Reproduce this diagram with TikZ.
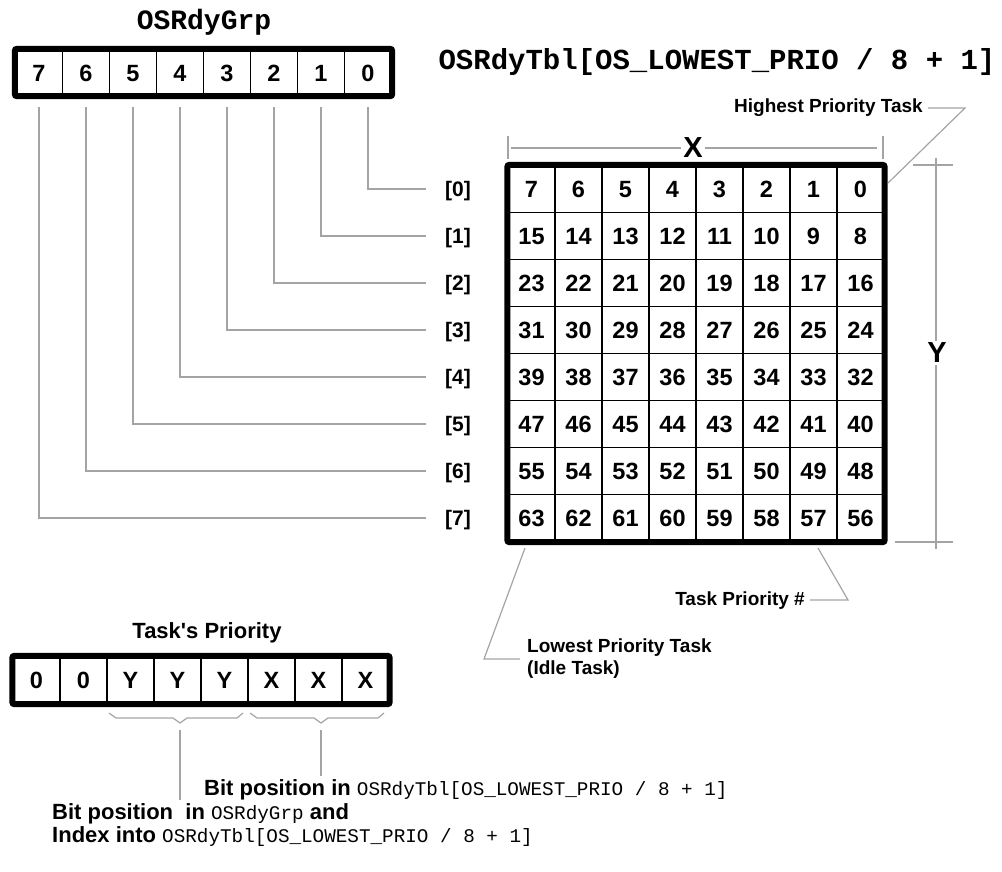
\documentclass[tikz,border=0pt]{standalone}
\usepackage{fontspec}
\setmainfont{Liberation Sans}
\newfontfamily\monofnt{Liberation Mono}
\definecolor{leadgray}{HTML}{A4A4A4}
\begin{document}
\begin{tikzpicture}[x=1pt,y=-1pt,
  cell/.style={draw, line width=1.3pt, minimum width=47pt, minimum height=47pt, inner sep=0pt,
    text height=17pt, text depth=0pt,
    font=\fontsize{23.5}{26}\selectfont\bfseries},
  frame/.style={draw, line width=6pt, rounded corners=2pt},
  lead/.style={draw=leadgray, line width=1.2pt},
  lab/.style={inner sep=3pt, font=\fontsize{19}{22}\selectfont\bfseries},
  rowlab/.style={inner sep=2pt, font=\fontsize{21}{24}\selectfont\bfseries},
  dimlab/.style={inner sep=2pt, font=\fontsize{29}{30}\selectfont\bfseries},
  ttl/.style={inner sep=0pt, font=\fontsize{28}{30}\selectfont\monofnt\bfseries},
  btext/.style={inner sep=3pt, font=\fontsize{22}{22}\selectfont\bfseries}
]
\useasboundingbox (0,0) rectangle (1002,871);

% ---- OSRdyGrp register ----
\node[ttl] (grpttl) at (204,22) {OSRdyGrp};
\foreach \j in {0,...,7}{
  \pgfmathtruncatemacro\b{7-\j}
  \node[cell, minimum height=46pt] (grp-\b) at ({39+47*\j},72.5) {\b};
}
\draw[frame] (grp-7.north west) rectangle (grp-0.south east);

% ---- OSRdyTbl title ----
\node[ttl, font=\fontsize{29}{30}\selectfont\monofnt\bfseries] (tblttl) at (717,62) {OSRdyTbl[OS\_LOWEST\_PRIO / 8 + 1]};

% ---- table grid ----
\foreach \i in {0,...,7}{
  \foreach \j in {0,...,7}{
    \pgfmathtruncatemacro\v{8*\i+7-\j}
    \node[cell] (t-\i-\j) at ({531.5+47*\j},{189+47*\i}) {\v};
  }
}
\draw[frame] (t-0-0.north west) rectangle (t-7-7.south east);

% ---- row labels and connectors ----
\foreach \i in {0,...,7}{
  \node[rowlab] (r-\i) at (458,{191+47*\i}) {[\i]};
  \coordinate (re-\i) at (426,{189+47*\i});
  \draw[lead, shorten <=11pt] (grp-\i.south) |- (re-\i);
}

% ---- X dimension ----
\node[dimlab] (xl) at (693,148) {X};
\coordinate (xL) at (508,148);
\coordinate (xR) at (883,148);
\draw[lead] ([yshift=-11pt]xL) -- ([yshift=12pt]xL);
\draw[lead] ([yshift=-11pt]xR) -- ([yshift=12pt]xR);
\draw[lead] ([xshift=3pt]xL) -- (xl.west);
\draw[lead] (xl.east) -- ([xshift=-6pt]xR);

% ---- Y dimension ----
\node[dimlab] (yl) at (937,353) {Y};
\coordinate (yT) at (936,165);
\coordinate (yB) at (936,542);
\draw[lead] ([xshift=-23pt]yT) -- ([xshift=17pt]yT);
\draw[lead] ([xshift=-41pt]yB) -- ([xshift=17pt]yB);
\draw[lead] ([yshift=7pt]yT) -- (yl.north -| yT);
\draw[lead] (yl.south -| yB) -- ([yshift=-7pt]yB);

% ---- Highest Priority Task ----
\node[lab, anchor=east] (hp) at (926,108) {Highest Priority Task};
\coordinate (hp1) at (965,108);
\coordinate (hp2) at (888,183);
\draw[lead] ([xshift=2pt]hp.east) -- (hp1) -- (hp2);

% ---- Task Priority # ----
\node[lab, anchor=east] (tpn) at (808,601) {Task Priority \#};
\coordinate (tp1) at (848,600);
\coordinate (tp2) at (818,548);
\draw[lead] ([xshift=2pt]tpn.east |- tp1) -- (tp1) -- (tp2);

% ---- Lowest Priority Task ----
\node[lab, anchor=west] (lp1) at (524,648) {Lowest Priority Task};
\node[lab, anchor=west] (lp2) at (524,670) {(Idle Task)};
\coordinate (lq1) at (525,548);
\coordinate (lq2) at (484,659);
\coordinate (lq3) at (520,659);
\draw[lead] (lq1) -- (lq2) -- (lq3);

% ---- Task's Priority register ----
\node[lab, font=\fontsize{22}{24}\selectfont\bfseries] (tpttl) at (207,633) {Task\textquotesingle s Priority};
\foreach \t [count=\k from 0] in {0,0,Y,Y,Y,X,X,X}{
  \node[cell] (tp-\k) at ({36.5+47*\k},680) {\t};
}
\draw[frame] (tp-0.north west) rectangle (tp-7.south east);

% ---- braces ----
\draw[lead] (109,713) -- (116,718) -- (173,718) -- (180,723) -- (187,718) -- (237,718) -- (243,713);
\draw[lead] (250,713) -- (257,718) -- (314,718) -- (321,723) -- (328,718) -- (378,718) -- (384,713);
\coordinate (byc) at (180,730);
\coordinate (bxc) at (321,730);

% ---- bottom texts ----
\node[btext, anchor=base west] (bt1) at (201,795) {Bit position in {\fontsize{19.3}{22}\selectfont\monofnt\mdseries OSRdyTbl[OS\_LOWEST\_PRIO / 8 + 1]}};
\node[btext, anchor=base west] (bt2) at (49,819) {Bit position\ \ in {\fontsize{19.3}{22}\selectfont\monofnt\mdseries OSRdyGrp} and};
\node[btext, anchor=base west] (bt3) at (49,842) {Index into {\fontsize{19.3}{22}\selectfont\monofnt\mdseries OSRdyTbl[OS\_LOWEST\_PRIO / 8 + 1]}};
\draw[lead] (bxc) -- (bxc |- bt1.north);
\draw[lead] (byc) -- (byc |- bt2.north);
\end{tikzpicture}
\end{document}
